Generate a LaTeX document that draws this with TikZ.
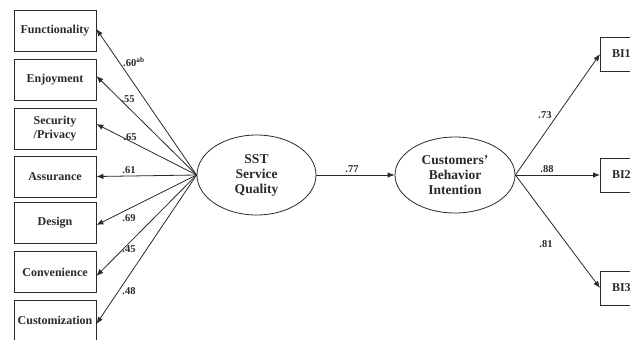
\documentclass[tikz,border=0pt]{standalone}
\usepackage{fontspec}
\setmainfont{Liberation Serif}
\usetikzlibrary{arrows.meta,shapes.geometric}
\definecolor{ink}{HTML}{2A2A2A}
\tikzset{
  ind/.style={draw=ink, line width=0.8pt, minimum width=82pt, minimum height=41pt,
    inner sep=0pt, font=\fontsize{12}{14}\selectfont\bfseries, text=ink, align=center},
  bibox/.style={draw=ink, line width=0.8pt, minimum width=42pt, minimum height=34pt,
    inner sep=0pt, font=\fontsize{12}{14}\selectfont\bfseries, text=ink, anchor=west},
  latent/.style={ellipse, draw=ink, line width=0.8pt, inner sep=0pt,
    font=\fontsize{13.5}{15}\selectfont\bfseries, text=ink, align=center},
  path/.style={draw=ink, line width=0.8pt, -{Latex[length=7pt,width=5.5pt]}},
  coef/.style={font=\fontsize{10.5}{12}\selectfont\bfseries, text=ink, inner sep=0pt}
}
\begin{document}
\begin{tikzpicture}[x=1pt,y=-1pt]
\useasboundingbox (0,0) rectangle (630,340);
\clip (0,0) rectangle (630,340);
\fill[white] (0,0) rectangle (630,340);

% indicators of SST service quality
\node[ind] (fun) at (55,31)    {Functionality};
\node[ind] (enj) at (55,79.5)  {Enjoyment};
\node[ind] (sec) at (55,128.5) {Security\\/Privacy};
\node[ind] (ass) at (55,176.5) {Assurance};
\node[ind] (des) at (55,222.5) {Design};
\node[ind] (con) at (55,272)   {Convenience};
\node[ind] (cus) at (55,320.5) {Customization};

% latent constructs
\node[latent, minimum width=119pt, minimum height=80pt] (sst) at (256.5,175) {SST\\Service\\Quality};
\node[latent, minimum width=120pt, minimum height=76pt] (cbi) at (455,175) {Customers'\\Behavior\\Intention};

% indicators of behavior intention
\node[bibox] (bi1) at (600,54)  {BI1};
\node[bibox] (bi2) at (600,175) {BI2};
\node[bibox] (bi3) at (600,288) {BI3};

% loadings
\draw[path] (sst.west) -- ([yshift=2pt]fun.east);
\draw[path] (sst.west) -- ([yshift=3.5pt]enj.east);
\draw[path] (sst.west) -- ([yshift=4.5pt]sec.east);
\draw[path] (sst.west) -- (ass.east);
\draw[path] (sst.west) -- ([yshift=-2.5pt]des.east);
\draw[path] (sst.west) -- ([yshift=-4pt]con.east);
\draw[path] (sst.west) -- ([yshift=-3.5pt]cus.east);

\draw[path] (sst.east) -- (cbi.west);

\draw[path] (cbi.east) -- (bi1.west);
\draw[path] (cbi.east) -- (bi2.west);
\draw[path] (cbi.east) -- (bi3.west);

% coefficients
\node[coef, anchor=west] (l1) at (123,62) {.60\textsuperscript{ab}};
\node[coef] (l2) at (128,99)  {.55};
\node[coef] (l3) at (130,137) {.65};
\node[coef] (l4) at (129,170) {.61};
\node[coef] (l5) at (129,218) {.69};
\node[coef] (l6) at (129,249) {.45};
\node[coef] (l7) at (129,291) {.48};
\node[coef] (l8) at (352,169) {.77};
\node[coef] (l9) at (545,115) {.73};
\node[coef] (l10) at (547,169) {.88};
\node[coef] (l11) at (546,244) {.81};
\end{tikzpicture}
\end{document}
